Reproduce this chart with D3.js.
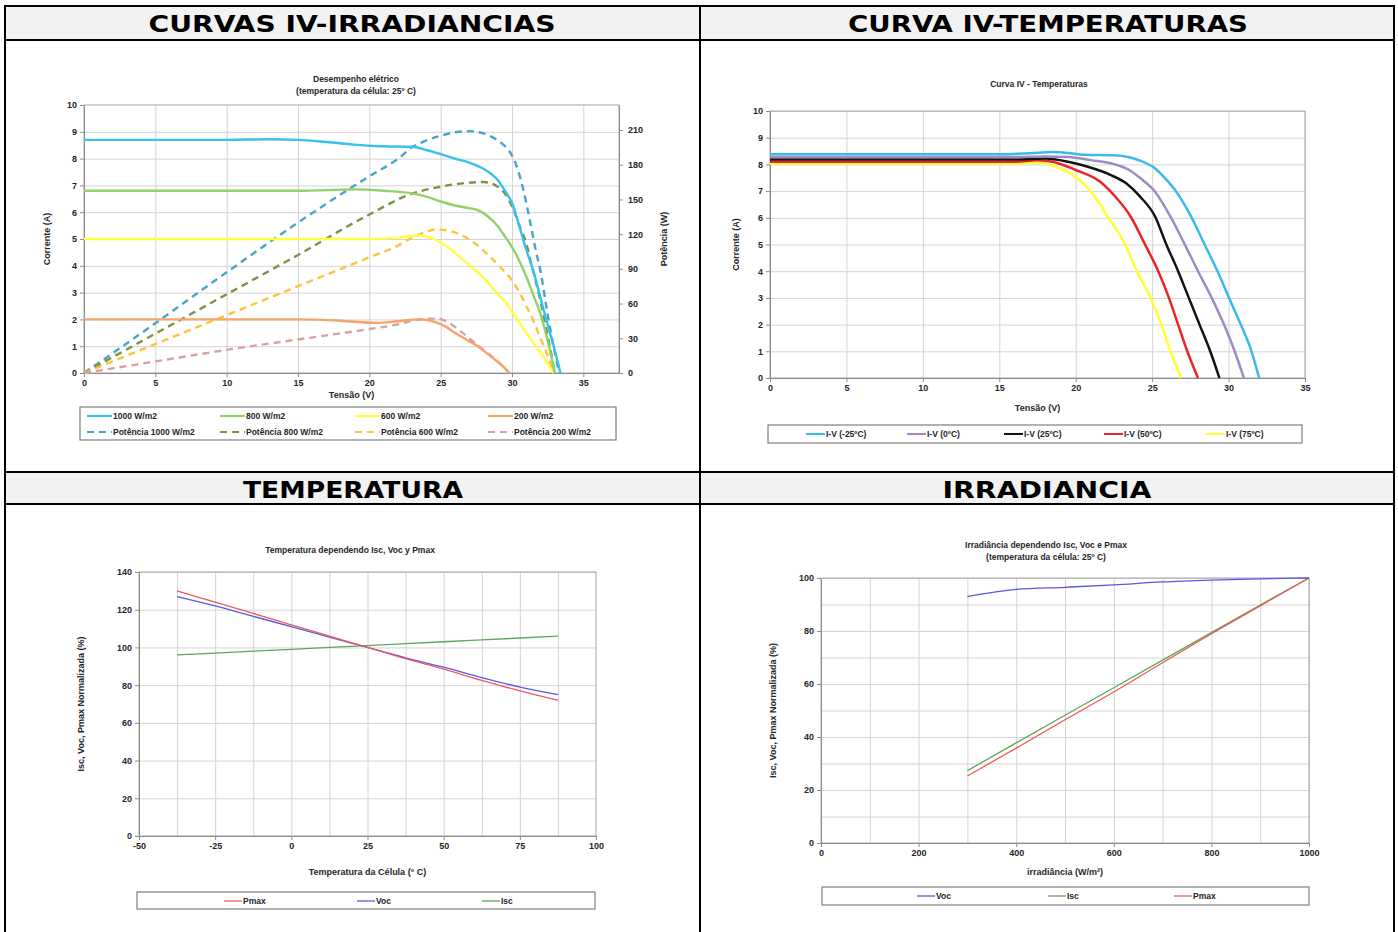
<!DOCTYPE html>
<html>
<head>
<meta charset="utf-8">
<script src="https://cdn.jsdelivr.net/npm/d3@7"></script>
<style>
  body { margin: 0; background: #fff; }
  svg text { font-family: "Liberation Sans", Arial, sans-serif; font-weight: bold; fill: #262626; }
  .hdr { font-family: "DejaVu Sans", Verdana, sans-serif !important; font-size: 23px; fill: #000 !important; }
  .grid line { stroke: #d4d4d4; }
  .grid path { display: none; }
  .ax path, .ax line { stroke: #8c8c8c; }
</style>
</head>
<body>
<svg width="1398" height="932"></svg>
<script>
// ---- chart 1: IV curves for irradiance (V, A) and power (V, W)
const iv1000 = [[0,8.7],[5,8.7],[10,8.7],[13,8.72],[15,8.7],[17,8.62],[19,8.52],[20,8.48],[21,8.46],[23,8.44],[24,8.32],[25,8.17],[26,8.0],[27,7.85],[28,7.62],[29,7.2],[29.5,6.8],[30,6.35],[30.5,5.5],[31,4.6],[31.5,3.8],[32,2.8],[32.5,1.8],[33,0.85],[33.4,0]];
const iv800 = [[0,6.8],[10,6.8],[15,6.8],[19,6.85],[21,6.8],[23,6.7],[24,6.58],[25,6.4],[26,6.25],[27,6.15],[27.6,6.08],[28.3,5.85],[29,5.48],[29.5,5.1],[30,4.7],[30.5,4.2],[31,3.6],[31.5,2.9],[32,2.2],[32.5,1.2],[33,0]];
const iv600 = [[0,5.0],[10,5.0],[20,5.0],[22,5.05],[23.5,5.13],[24.5,5.0],[25.5,4.7],[26.5,4.25],[27.3,3.9],[28,3.55],[29,2.95],[29.6,2.6],[30.3,2.05],[31,1.5],[31.6,1.05],[32.2,0.6],[32.9,0]];
const iv200 = [[0,2.0],[10,2.0],[15,2.0],[18,1.95],[20.5,1.87],[22,1.93],[23.5,2.0],[24.5,1.92],[25.3,1.75],[26,1.5],[26.8,1.25],[27.6,1.0],[28.2,0.75],[28.8,0.5],[29.3,0.28],[29.8,0]];
const pw1000 = [[0,0],[2,17],[5,43],[10,87],[15,130],[20,170],[22,185],[23,195],[24,201],[25,205],[26,208],[27,209],[28,207],[29,201],[29.5,196],[30,188],[30.5,172],[30.8,158],[31.2,135],[31.7,104],[32,88],[32.4,58],[32.8,30],[33.3,0]];
const pw800 = [[0,0],[5,34],[10,68],[15,102],[20,137],[23,155],[25,161],[27,164.5],[28,165],[29,161],[29.5,155],[30,144],[30.5,128],[31,112],[31.4,92],[32,62],[32.6,26],[33.0,0]];
const pw600 = [[0,0],[5,25],[10,50],[15,75],[20,100],[22,110],[23,117],[24,122],[24.6,124],[25.5,123],[26.5,119],[27.5,111],[28.5,100],[29.3,90],[30,80],[30.5,70],[31,58],[31.5,45],[32,30],[32.5,15],[32.9,0]];
const pw200 = [[0,0],[5,10],[10,20],[15,29],[20,38],[22,42],[23,45],[24,47],[24.8,47],[25.5,44],[26.2,38],[27,30],[28,20],[29,10],[29.8,0]];

// ---- chart 2: IV curves by temperature (V, A)
const ivM25 = [[0,8.38],[15,8.38],[17,8.42],[18.5,8.46],[19.5,8.43],[20.5,8.36],[22.5,8.34],[23.5,8.27],[24.3,8.12],[25.2,7.85],[25.9,7.45],[26.5,7.04],[27.5,6.1],[28.4,5.04],[29.3,3.97],[30.0,3.04],[30.8,2.0],[31.5,1.0],[32.0,0]];
const iv0 = [[0,8.28],[16,8.28],[18,8.3],[19.5,8.28],[21,8.16],[22.5,8.01],[23.5,7.79],[24.3,7.45],[25.1,7.04],[26.2,6.04],[27.1,5.04],[28,4.0],[28.9,3.0],[29.7,2.0],[30.4,1.0],[31.0,0]];
const iv25 = [[0,8.18],[16,8.18],[18,8.22],[19.5,8.1],[20.8,7.91],[22.3,7.6],[23.3,7.29],[24.2,6.8],[25.2,6.04],[25.9,5.04],[26.7,4.0],[27.4,3.0],[28.1,2.0],[28.8,1.0],[29.4,0]];
const iv50 = [[0,8.1],[16,8.1],[17.5,8.16],[18.5,8.1],[20,7.79],[21.6,7.35],[22.5,6.85],[23.6,6.04],[24.5,5.04],[25.4,4.0],[26.1,3.0],[26.7,2.0],[27.3,1.0],[28.0,0]];
const iv75 = [[0,8.02],[16,8.02],[17.5,8.06],[18.5,7.95],[19.8,7.6],[21,6.98],[22.1,6.04],[23.2,5.04],[24,4.0],[24.9,3.0],[25.6,2.0],[26.2,1.0],[26.9,0]];

// ---- chart 3: normalised values vs cell temperature (°C, %)
const tempC = [-37.5,-25,-12.5,0,12.5,25,37.5,50,62.5,75,87.5];
const pmaxT = [130,124,118,112,106,100,94,88.5,82.5,77,72];
const vocT = [127,122,116.5,111,105.5,100,94.5,89.5,84,79,75];
const iscT = [96,97,98,99,100,101,102,103,104,105,106];

// ---- chart 4: normalised values vs irradiance (W/m², %)
const irr = [300,400,500,600,700,800,900,1000];
const vocI = [93,95.7,96.5,97.4,98.5,99.2,99.7,100];
const iscI = [27.3,37.8,48.2,58.6,69,79.4,89.8,100];
const pmaxI = [25.3,35.8,46.5,57,68,79,89.5,100];

const headers = ["CURVAS IV-IRRADIANCIAS", "CURVA IV-TEMPERATURAS", "TEMPERATURA", "IRRADIANCIA"];

const svg = d3.select('svg');
const plain = d => String(d);

// table frame
svg.append('rect').attr('x', 6).attr('y', 7).attr('width', 1387).attr('height', 32).attr('fill', '#f2f2f2');
svg.append('rect').attr('x', 6).attr('y', 473).attr('width', 1387).attr('height', 30).attr('fill', '#f2f2f2');
const rules = [[4,6,1395,6],[4,40,1395,40],[4,472,1395,472],[4,504,1395,504],[5,5,5,932],[700,5,700,932],[1394,5,1394,932]];
svg.selectAll('.rule').data(rules).enter().append('line')
  .attr('x1', d => d[0]).attr('y1', d => d[1]).attr('x2', d => d[2]).attr('y2', d => d[3])
  .attr('stroke', '#000').attr('stroke-width', 2);
// header text: centre x, baseline y, width measured on the picture
[[352, 32, 407], [1048, 32, 400], [353, 498, 220], [1047, 498, 209]].forEach((p, i) => {
  svg.append('text').attr('class', 'hdr').attr('x', p[0]).attr('y', p[1])
    .attr('text-anchor', 'middle').attr('textLength', p[2]).attr('lengthAdjust', 'spacingAndGlyphs')
    .text(headers[i]);
});

function panel(o) {
  const g = svg.append('g');
  const x = d3.scaleLinear().domain(o.xDom).range([o.l, o.r]);
  const y = d3.scaleLinear().domain(o.yDom).range([o.b, o.t]);

  g.append('g').attr('class', 'grid').attr('transform', `translate(0,${o.b})`)
    .call(d3.axisBottom(x).tickValues(o.xGrid).tickSize(-(o.b - o.t)).tickFormat(''));
  g.append('g').attr('class', 'grid').attr('transform', `translate(${o.l},0)`)
    .call(d3.axisLeft(y).tickValues(o.yGrid).tickSize(-(o.r - o.l)).tickFormat(''));
  g.append('rect').attr('x', o.l).attr('y', o.t).attr('width', o.r - o.l).attr('height', o.b - o.t)
    .attr('fill', 'none').attr('stroke', '#a6a6a6');

  const bx = g.append('g').attr('class', 'ax').attr('transform', `translate(0,${o.b})`)
    .call(d3.axisBottom(x).tickValues(o.xTicks).tickFormat(plain).tickSize(4).tickPadding(3).tickSizeOuter(0));
  const ly = g.append('g').attr('class', 'ax').attr('transform', `translate(${o.l},0)`)
    .call(d3.axisLeft(y).tickValues(o.yTicks).tickFormat(plain).tickSize(4).tickPadding(3).tickSizeOuter(0));
  [bx, ly].forEach(a => a.attr('font-family', null).attr('font-size', 9));

  // titles
  o.title.forEach((t, i) => g.append('text').attr('x', o.tx).attr('y', o.ty + i * 11.5)
    .attr('text-anchor', 'middle').attr('font-size', 8.5).text(t));
  g.append('text').attr('x', (o.l + o.r) / 2).attr('y', o.xly)
    .attr('text-anchor', 'middle').attr('font-size', 9).text(o.xLabel);
  g.append('text').attr('transform', `translate(${o.ylx},${(o.t + o.b) / 2}) rotate(-90)`)
    .attr('text-anchor', 'middle').attr('font-size', 9).text(o.yLabel);

  // legend box
  g.append('rect').attr('x', o.leg[0]).attr('y', o.leg[1]).attr('width', o.leg[2]).attr('height', o.leg[3])
    .attr('fill', '#fff').attr('stroke', '#7f7f7f').attr('stroke-width', 1.2);
  return { g, x, y };
}

function series(p, data, color, width, dash, curve) {
  p.g.append('path').datum(data)
    .attr('fill', 'none').attr('stroke', color).attr('stroke-width', width)
    .attr('stroke-dasharray', dash || null)
    .attr('d', d3.line().x(d => p.x(d[0])).y(d => p.y(d[1])).curve(curve || d3.curveMonotoneX));
}

function legendItem(p, lx, ly, len, color, width, dash, label) {
  p.g.append('line').attr('x1', lx).attr('x2', lx + len).attr('y1', ly).attr('y2', ly)
    .attr('stroke', color).attr('stroke-width', width).attr('stroke-dasharray', dash || null);
  p.g.append('text').attr('x', lx + len + 1).attr('y', ly + 3).attr('font-size', 8.5).text(label);
}

// ---------- chart 1
const c1 = panel({
  l: 84, r: 619, t: 105, b: 373, xDom: [0, 37.5], yDom: [0, 10],
  xGrid: d3.range(5, 36, 5), yGrid: d3.range(1, 10), xTicks: d3.range(0, 36, 5), yTicks: d3.range(0, 11),
  title: ['Desempenho elétrico', '(temperatura da célula: 25º C)'], tx: 356, ty: 82,
  xLabel: 'Tensão (V)', xly: 398, yLabel: 'Corrente (A)', ylx: 50,
  leg: [80, 407, 536, 33]
});
const y2 = d3.scaleLinear().domain([0, 231.6]).range([373, 105]);
const ry = c1.g.append('g').attr('class', 'ax').attr('transform', 'translate(619,0)')
  .call(d3.axisRight(y2).tickValues(d3.range(0, 211, 30)).tickFormat(plain).tickSize(4).tickPadding(5).tickSizeOuter(0));
ry.attr('font-family', null).attr('font-size', 9);
c1.g.append('text').attr('transform', 'translate(667,239) rotate(-90)')
  .attr('text-anchor', 'middle').attr('font-size', 9).text('Potência (W)');

const pw = { g: c1.g, x: c1.x, y: y2 };
const dash1 = '7,5';
series(pw, pw1000, '#4aa3c8', 2.4, dash1);
series(pw, pw800, '#7a9440', 2.4, dash1);
series(pw, pw600, '#ffc23a', 2.4, dash1);
series(pw, pw200, '#dba0a0', 2.4, dash1);
series(c1, iv200, '#f4a46c', 2.4);
series(c1, iv600, '#ffff40', 2.4);
series(c1, iv800, '#92d06a', 2.4);
series(c1, iv1000, '#38c0ee', 2.4);

const leg1 = [
  ['1000 W/m2', '#38c0ee', null], ['800 W/m2', '#92d06a', null], ['600 W/m2', '#ffff40', null], ['200 W/m2', '#f4a46c', null],
  ['Potência 1000 W/m2', '#4aa3c8', '7,5'], ['Potência 800 W/m2', '#7a9440', '7,5'], ['Potência 600 W/m2', '#ffc23a', '7,5'], ['Potência 200 W/m2', '#dba0a0', '7,5']
];
const leg1x = [87, 220, 355, 488];
leg1.forEach((d, i) => legendItem(c1, leg1x[i % 4], i < 4 ? 416 : 432, 25, d[1], 2.2, d[2], d[0]));

// ---------- chart 2
const c2 = panel({
  l: 770, r: 1305, t: 111, b: 378, xDom: [0, 35], yDom: [0, 10],
  xGrid: d3.range(5, 36, 5), yGrid: d3.range(1, 11), xTicks: d3.range(0, 36, 5), yTicks: d3.range(0, 11),
  title: ['Curva IV - Temperaturas'], tx: 1039, ty: 87,
  xLabel: 'Tensão (V)', xly: 411, yLabel: 'Corrente (A)', ylx: 739,
  leg: [768, 425, 534, 18]
});
const tempSeries = [
  [ivM25, '#3bb9e9', 'I-V (-25ºC)'], [iv0, '#9d8cc4', 'I-V (0ºC)'], [iv25, '#141414', 'I-V (25ºC)'],
  [iv50, '#ee2424', 'I-V (50ºC)'], [iv75, '#ffff33', 'I-V (75ºC)']
];
tempSeries.slice().reverse().forEach(s => series(c2, s[0], s[1], 2.5));
const leg2x = [806, 907, 1004, 1104, 1206];
tempSeries.forEach((s, i) => legendItem(c2, leg2x[i], 434, 19, s[1], 2, null, s[2]));

// ---------- chart 3
const c3 = panel({
  l: 139, r: 596, t: 572, b: 836, xDom: [-50, 100], yDom: [0, 140],
  xGrid: d3.range(-37.5, 100, 12.5), yGrid: d3.range(20, 141, 20), xTicks: d3.range(-50, 101, 25), yTicks: d3.range(0, 141, 20),
  title: ['Temperatura dependendo Isc, Voc y Pmax'], tx: 350, ty: 553,
  xLabel: 'Temperatura da Célula (° C)', xly: 875, yLabel: 'Isc, Voc, Pmax Normalizada (%)', ylx: 84,
  leg: [137, 892, 458, 17]
});
series(c3, d3.zip(tempC, iscT), '#5aa85a', 1.3, null, d3.curveLinear);
series(c3, d3.zip(tempC, vocT), '#5858e8', 1.3, null, d3.curveMonotoneX);
series(c3, d3.zip(tempC, pmaxT), '#ec5a5a', 1.3, null, d3.curveMonotoneX);
legendItem(c3, 224, 901, 18, '#ec5a5a', 1.3, null, 'Pmax');
legendItem(c3, 357, 901, 18, '#5858e8', 1.3, null, 'Voc');
legendItem(c3, 482, 901, 18, '#5aa85a', 1.3, null, 'Isc');

// ---------- chart 4
const c4 = panel({
  l: 821, r: 1309, t: 578, b: 843, xDom: [0, 1000], yDom: [0, 100],
  xGrid: d3.range(100, 1001, 100), yGrid: d3.range(10, 101, 10), xTicks: d3.range(0, 1001, 200), yTicks: d3.range(0, 101, 20),
  title: ['Irradiância dependendo Isc, Voc e Pmax', '(temperatura da célula: 25º C)'], tx: 1046, ty: 548,
  xLabel: 'irradiância (W/m²)', xly: 875, yLabel: 'Isc, Voc, Pmax Normalizada (%)', ylx: 776,
  leg: [822, 887, 487, 18]
});
series(c4, d3.zip(irr, iscI), '#5aa85a', 1.3, null, d3.curveLinear);
series(c4, d3.zip(irr, pmaxI), '#ec5a5a', 1.3, null, d3.curveLinear);
series(c4, d3.zip(irr, vocI), '#5858e8', 1.3, null, d3.curveMonotoneX);
legendItem(c4, 917, 896, 18, '#5858e8', 1.3, null, 'Voc');
legendItem(c4, 1048, 896, 18, '#5aa85a', 1.3, null, 'Isc');
legendItem(c4, 1174, 896, 18, '#ec5a5a', 1.3, null, 'Pmax');
</script>
</body>
</html>
